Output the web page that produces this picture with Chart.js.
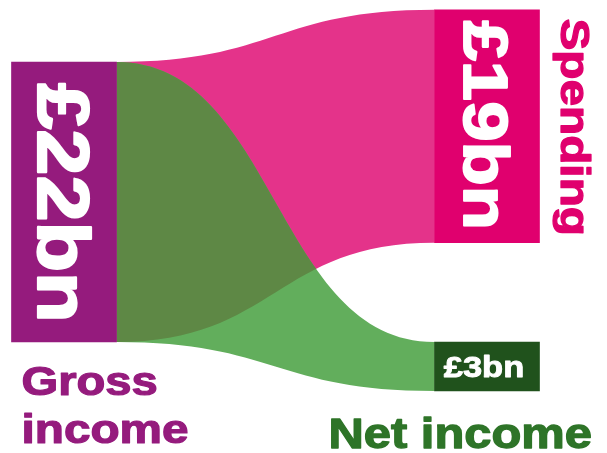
<!DOCTYPE html>
<html>
<head>
<meta charset="utf-8">
<title>Gross income, spending and net income</title>
<script src="https://cdn.jsdelivr.net/npm/chart.js@4"></script>
<style>
    html, body { margin: 0; padding: 0; background: #fff; }
    #wrap { width: 607px; height: 453px; position: relative; }
</style>
</head>
<body>
<div id="wrap"><canvas id="myChart"></canvas></div>
<script>
'use strict';

// Nodes
var nodeNames = ['Gross income', 'Spending', 'Net income'];
var nodeLabels = ['£22bn', '£19bn', '£3bn'];
var nodeColumn = [0, 1, 1];
// bar extents in £bn
var nodeFrom = [0, 7.8, -3.85];
var nodeTo = [22, 26.1, 0];
var nodeColors = ['#951b7d', '#e0006e', '#20521c'];
var nameColors = ['#951b7d', '#e0006e', '#2e7428'];

// Flows (index into the nodes)
var flowFrom = [0, 0];
var flowTo = [1, 2];
var flowColors = ['#e4338a', '#62ae5c'];
var overlapColor = '#5e8845';

var FONT = '"Liberation Sans", Arial, sans-serif';
var STRETCH = 1.15; // the lettering is a bit wider and heavier than plain Arial bold

function box(el) {
    var top = Math.min(el.y, el.base), bottom = Math.max(el.y, el.base);
    return {
        left: el.x - el.width / 2, right: el.x + el.width / 2,
        top: top, bottom: bottom, cx: el.x, cy: (top + bottom) / 2
    };
}

function flowPath(ctx, s, t) {
    var a = box(s), b = box(t);
    var mx = (a.right + b.left) / 2;
    ctx.beginPath();
    ctx.moveTo(a.right, a.top);
    ctx.bezierCurveTo(mx, a.top, mx, b.top, b.left, b.top);
    ctx.lineTo(b.left, b.bottom);
    ctx.bezierCurveTo(mx, b.bottom, mx, a.bottom, a.right, a.bottom);
    ctx.closePath();
}

function label(ctx, text, x, y, size, color, align, turned) {
    ctx.save();
    ctx.translate(x, y);
    if (turned) ctx.rotate(Math.PI / 2);
    ctx.scale(STRETCH, 1);
    ctx.font = 'bold ' + size + 'px ' + FONT;
    ctx.textAlign = align;
    ctx.textBaseline = 'alphabetic';
    ctx.fillStyle = color;
    ctx.strokeStyle = color;
    ctx.lineWidth = size * 0.03;
    ctx.lineJoin = 'round';
    ctx.fillText(text, 0, 0);
    ctx.strokeText(text, 0, 0);
    ctx.restore();
}

// turned 90deg clockwise, caps centred on (cx, cy)
function vertical(ctx, text, cx, cy, size, color) {
    label(ctx, text, cx - size * 0.358, cy, size, color, 'center', true);
}

var sankeyFlows = {
    id: 'sankeyFlows',
    beforeDatasetsDraw: function (chart) {
        var ctx = chart.ctx;
        var bars = chart.getDatasetMeta(0).data;
        ctx.save();
        for (var i = 0; i < flowFrom.length; i++) {
            flowPath(ctx, bars[flowFrom[i]], bars[flowTo[i]]);
            ctx.fillStyle = flowColors[i];
            ctx.fill();
        }
        // where the two flows cross
        flowPath(ctx, bars[flowFrom[0]], bars[flowTo[0]]);
        ctx.clip();
        flowPath(ctx, bars[flowFrom[1]], bars[flowTo[1]]);
        ctx.fillStyle = overlapColor;
        ctx.fill();
        ctx.restore();
    }
};

var sankeyLabels = {
    id: 'sankeyLabels',
    afterDatasetsDraw: function (chart) {
        var ctx = chart.ctx;
        var bars = chart.getDatasetMeta(0).data;
        var g = box(bars[0]), s = box(bars[1]), n = box(bars[2]);

        // values
        vertical(ctx, nodeLabels[0], g.cx, g.cy + 1, 72, '#fff');
        vertical(ctx, nodeLabels[1], s.cx, s.cy - 1, 63, '#fff');
        label(ctx, nodeLabels[2], n.cx - 3, n.cy + 30 * 0.358, 30, '#fff', 'center');

        // names
        var words = nodeNames[0].split(' ');
        label(ctx, words[0], g.left + 10, g.bottom + 53, 41, nameColors[0], 'left');
        label(ctx, words[1], g.left + 10, g.bottom + 101, 41.5, nameColors[0], 'left');
        label(ctx, nodeNames[2], n.left - 106, n.bottom + 57, 42.5, nameColors[2], 'left');
        vertical(ctx, nodeNames[1], s.right + 22 + 41 * 0.358, s.cy + 1, 41.5, nameColors[1]);
    }
};

var ctx = document.getElementById('myChart').getContext('2d');

var chart = new Chart(ctx, {
    type: 'bar',
    data: {
        datasets: [{
            data: nodeNames.map(function (name, i) {
                return { x: nodeColumn[i], y: [nodeFrom[i], nodeTo[i]] };
            }),
            backgroundColor: nodeColors,
            borderWidth: 0,
            barThickness: 105,
            clip: false
        }]
    },
    options: {
        responsive: true,
        maintainAspectRatio: false,
        animation: false,
        layout: { padding: { left: 64, right: 120, top: 8.5, bottom: 9.2 } },
        scales: {
            x: { type: 'linear', min: 0, max: 1, offset: false, display: false },
            y: { min: -8, max: 26.2, display: false }
        },
        plugins: {
            legend: { display: false },
            tooltip: { enabled: false }
        }
    },
    plugins: [sankeyFlows, sankeyLabels]
});
</script>
</body>
</html>
